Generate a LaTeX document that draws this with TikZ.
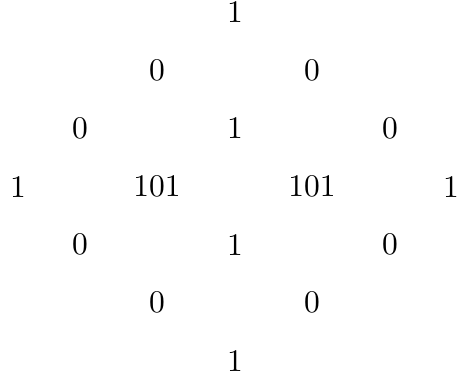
\documentclass[tikz,border=0pt]{standalone}
\begin{document}
\begin{tikzpicture}[x=0.3175pt,y=-0.3175pt,num/.style={inner sep=0pt}]
\useasboundingbox (0,0) rectangle (459,381);
% row 1
\node[num] (r1c4) at (235,12.5) {1};
% row 2
\node[num] (r2c3) at (157,70.5) {0};
\node[num] (r2c5) at (312,70.5) {0};
% row 3
\node[num] (r3c2) at (80,128.5) {0};
\node[num] (r3c4) at (235,128.5) {1};
\node[num] (r3c6) at (390,128.5) {0};
% row 4
\node[num] (r4c1) at (18,186.5) {1};
\node[num] (r4c3) at (157,186.5) {101};
\node[num] (r4c5) at (312,186.5) {101};
\node[num] (r4c7) at (451,186.5) {1};
% row 5
\node[num] (r5c2) at (80,244.5) {0};
\node[num] (r5c4) at (235,244.5) {1};
\node[num] (r5c6) at (390,244.5) {0};
% row 6
\node[num] (r6c3) at (157,302.5) {0};
\node[num] (r6c5) at (312,302.5) {0};
% row 7
\node[num] (r7c4) at (235,360.5) {1};
\end{tikzpicture}
\end{document}
